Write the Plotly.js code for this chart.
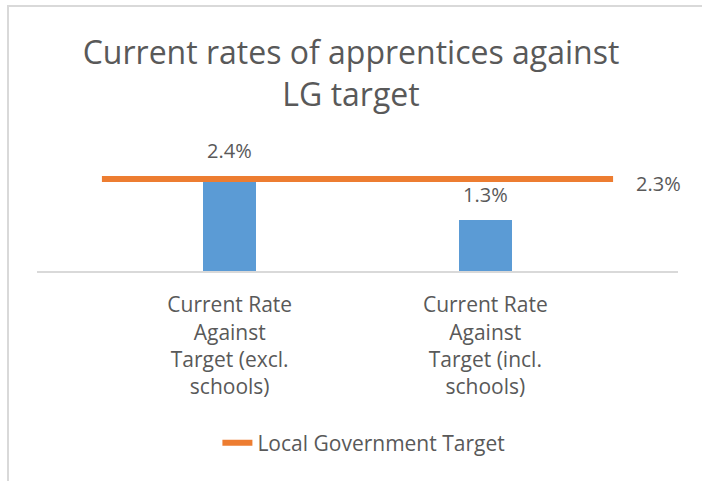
<!DOCTYPE html>
<html>
<head>
<meta charset="utf-8">
<script src="https://cdn.plot.ly/plotly-3.0.1.min.js"></script>
<style>
  html, body { margin: 0; padding: 0; background: #fff; }
  #wrap { position: relative; width: 702px; height: 481px; overflow: hidden; }
  #chart { position: absolute; left: 0; top: 0; width: 702px; height: 481px; }
  #frame { position: absolute; left: 7px; top: 5px; right: -10px; bottom: -10px;
           border-top: 2px solid #d9d9d9; border-left: 2px solid #d9d9d9; pointer-events: none; }
</style>
</head>
<body>
<div id="wrap">
  <div id="chart"></div>
  <div id="frame"></div>
</div>
<script>
// ---- data ----
const categories = [
  "Current Rate<br>Against<br>Target (excl.<br>schools)",
  "Current Rate<br>Against<br>Target (incl.<br>schools)"
];
const currentRates = [2.4, 1.3];
const targetRates = [2.3, 2.3];
const targetName = "Local Government Target";
const chartTitle = "Current rates of apprentices against<br>LG target";

// ---- style ----
const textColor = "#595959";
const fontFamily = "'Open Sans', sans-serif";
const barColor = "#5b9bd5";
const lineColor = "#ed7d31";

const traces = [
  {
    type: "bar",
    x: categories,
    y: currentRates,
    width: 0.207,
    marker: { color: barColor },
    showlegend: false,
    hoverinfo: "x+y"
  },
  {
    type: "scatter",
    mode: "lines",
    name: targetName,
    x: categories,
    y: targetRates,
    xaxis: "x2",
    yaxis: "y2",
    line: { color: lineColor, width: 6 },
    showlegend: true
  }
];

const annotations = currentRates.map((v, i) => ({
  xref: "x", yref: "y",
  x: categories[i], y: v,
  text: v.toFixed(1) + "%",
  showarrow: false,
  yanchor: "bottom",
  yshift: 10,
  font: { family: fontFamily, size: 20, color: textColor }
}));
annotations.push({
  xref: "x2", yref: "y2",
  x: categories[categories.length - 1], y: targetRates[targetRates.length - 1],
  text: targetRates[targetRates.length - 1].toFixed(1) + "%",
  showarrow: false,
  xanchor: "left",
  xshift: 21,
  yshift: -4,
  font: { family: fontFamily, size: 20, color: textColor }
});

const layout = {
  width: 702,
  height: 481,
  margin: { l: 37, r: 24, t: 130, b: 210 },
  paper_bgcolor: "#ffffff",
  plot_bgcolor: "#ffffff",
  font: { family: fontFamily, color: textColor },
  title: {
    text: chartTitle,
    font: { family: fontFamily, size: 32, color: textColor },
    x: 0.5, xanchor: "center",
    y: 0.866, yanchor: "middle", yref: "container"
  },
  xaxis: {
    type: "category",
    range: [-0.754, 1.754],
    showline: true,
    linecolor: "#d9d9d9",
    linewidth: 2,
    ticks: "",
    ticklabelstandoff: 14,
    showgrid: false,
    zeroline: false,
    tickfont: { family: fontFamily, size: 21, color: textColor },
    fixedrange: true
  },
  xaxis2: {
    type: "category",
    overlaying: "x",
    range: [-0.127, 1.127],
    visible: false,
    fixedrange: true
  },
  yaxis: {
    range: [0, 3.57],
    showgrid: false,
    zeroline: false,
    showline: false,
    showticklabels: false,
    ticks: "",
    fixedrange: true
  },
  yaxis2: {
    overlaying: "y",
    range: [0, 3.525],
    visible: false,
    fixedrange: true
  },
  bargap: 0,
  showlegend: true,
  legend: {
    orientation: "h",
    x: 0.51, xanchor: "center",
    y: -1.22, yanchor: "middle",
    font: { family: fontFamily, size: 21, color: textColor },
    bgcolor: "rgba(0,0,0,0)"
  },
  annotations: annotations
};

Plotly.newPlot("chart", traces, layout, { displayModeBar: false, staticPlot: true });
</script>
</body>
</html>
